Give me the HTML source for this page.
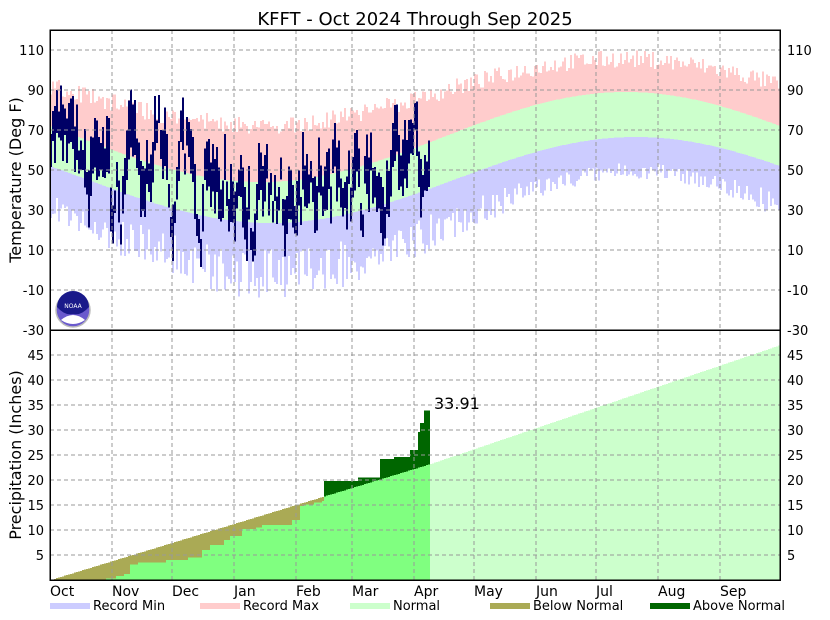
<!DOCTYPE html>
<html><head><meta charset="utf-8"><style>
body{margin:0;background:#fff;width:830px;height:620px;overflow:hidden}
svg{display:block;font-family:"DejaVu Sans","Liberation Sans",sans-serif}
</style></head><body>
<svg id="s" width="830" height="620" xmlns="http://www.w3.org/2000/svg" shape-rendering="crispEdges">
<defs>
<clipPath id="ct"><rect x="50" y="30" width="730" height="300"/></clipPath>
<clipPath id="cb"><rect x="50" y="330" width="730" height="250"/></clipPath>
</defs>
<g id="gtop" clip-path="url(#ct)"></g>
<g id="gbot" clip-path="url(#cb)"></g>
<g id="grid" stroke="#999" stroke-dasharray="4,3" stroke-width="1" fill="none"></g>
<rect x="50" y="30" width="730" height="550" fill="none" stroke="#000" stroke-width="1.5"/>
<line x1="50" y1="330" x2="780" y2="330" stroke="#000" stroke-width="1.5"/>
<text x="415" y="25" font-size="18" text-anchor="middle">KFFT - Oct 2024 Through Sep 2025</text>
<text transform="translate(21,180) rotate(-90)" font-size="16" text-anchor="middle">Temperature (Deg F)</text>
<text transform="translate(21,455) rotate(-90)" font-size="16" text-anchor="middle">Precipitation (Inches)</text>
<text x="434" y="409" font-size="16">33.91</text>
<g id="lbl" font-size="13"></g>
<g transform="translate(73,310)" shape-rendering="auto">
<circle r="17" fill="#6a5acd" stroke="#bbb" stroke-width="1.5"/>
<path d="M-16,-3 A16,16 0 0 1 16,-3 Q8,6 0,4 Q-8,6 -16,-3Z" fill="#1a1a8a"/>
<path d="M-12,10 Q0,0 12,10 Q0,18 -12,10Z" fill="#fff"/>
<text x="0" y="-2" font-size="6" fill="#fff" text-anchor="middle">NOAA</text>
</g>
<g font-size="13">
<rect x="50" y="603" width="40" height="6" fill="#ccccff"/><text x="93" y="610">Record Min</text>
<rect x="200" y="603" width="40" height="6" fill="#ffcccc"/><text x="243" y="610">Record Max</text>
<rect x="350" y="603" width="40" height="6" fill="#ccffcc"/><text x="393" y="610">Normal</text>
<rect x="490" y="603" width="40" height="6" fill="#aaaa55"/><text x="533" y="610">Below Normal</text>
<rect x="650" y="603" width="40" height="6" fill="#006600"/><text x="693" y="610">Above Normal</text>
</g>
</svg>
<script>
(function(){
var NS="http://www.w3.org/2000/svg";
function el(p,t,a){var e=document.createElementNS(NS,t);for(var k in a)e.setAttribute(k,a[k]);if(p)p.appendChild(e);return e;}
var seed=7;function rnd(){seed=(seed*16807)%2147483647;return (seed-1)/2147483646;}
function gauss(){return (rnd()+rnd()+rnd()+rnd()-2)*1.7;}
var gt=document.getElementById('gtop'),gb=document.getElementById('gbot'),grid=document.getElementById('grid'),lbl=document.getElementById('lbl');
function ty(T){return 50+(110-T)*2;}
function py(P){return 580-P*5;}
var W=2*Math.PI/365;
var a=0;
for(var d=0;d<365;d++){
 var x=50+2*d;
 var NH=66.5-22.5*Math.cos(W*(d-105));
 var NL=45-21.5*Math.cos(W*(d-110));
 var wf=(1+Math.cos(W*(d-110)))/2;
 var RM=NH+12+12*wf+rnd()*9;
 var Rm=NL-(13+rnd()*(8+17*wf));
 el(gt,'rect',{x:x,y:ty(RM),width:2,height:ty(NH)-ty(RM),fill:'#ffcccc'});
 el(gt,'rect',{x:x,y:ty(NH),width:2,height:ty(NL)-ty(NH),fill:'#ccffcc'});
 el(gt,'rect',{x:x,y:ty(NL),width:2,height:ty(Rm)-ty(NL),fill:'#ccccff'});
 if(d<190){
  a=a*0.75+gauss()*10;
  var m=(NH+NL)/2+a+2,r=10+rnd()*20;
  var hi=m+r/2,lo=m-r/2;
  el(gt,'rect',{x:x,y:ty(hi),width:2,height:ty(lo)-ty(hi),fill:'#000066'});
 }
}
function normP(d){return d<=190?23.2*d/190:23.2+(d-190)*0.136;}
var steps=[[0,0],[28,0.3],[33,0.8],[37,1.2],[40,3.1],[44,3.5],[58,4],[69,4.5],[76,6],[80,7],[87,8],[90,8.8],[96,10.2],[103,10.5],[106,11],[121,12],[125,14.8],[127,15.1],[132,15.5],[136,15.8],[137,19.8],[154,20.5],[165,24.2],[172,24.6],[180,26],[184,29.6],[185,31.4],[187,33.91]];
function obsP(d){var v=0;for(var i=0;i<steps.length;i++)if(d>=steps[i][0])v=steps[i][1];return v;}
for(var d=0;d<365;d++){
 var x=50+2*d,n=normP(d);
 if(d<190){
  var o=obsP(d);
  var lo=Math.min(o,n);
  el(gb,'rect',{x:x,y:py(lo),width:2,height:580-py(lo),fill:'#80ff80'});
  if(o<n)el(gb,'rect',{x:x,y:py(n),width:2,height:py(o)-py(n),fill:'#aaaa55'});
  else if(o>n)el(gb,'rect',{x:x,y:py(o),width:2,height:py(n)-py(o),fill:'#006600'});
 }else{
  el(gb,'rect',{x:x,y:py(n),width:2,height:580-py(n),fill:'#ccffcc'});
 }
}
var months=['Oct','Nov','Dec','Jan','Feb','Mar','Apr','May','Jun','Jul','Aug','Sep'];
var md=[0,31,61,92,123,151,182,212,243,273,304,335];
for(var i=0;i<12;i++){
 var x=50+2*md[i];
 if(i>0)el(grid,'line',{x1:x,y1:30,x2:x,y2:580});
 var t=el(lbl,'text',{x:x,y:596,'font-size':14});t.textContent=months[i];
}
for(var T=110;T>=-30;T-=20){
 var y=ty(T);
 if(T>-30)el(grid,'line',{x1:50,y1:y,x2:780,y2:y});
 var t=el(lbl,'text',{x:44,y:y+5,'text-anchor':'end'});t.textContent=T;
 t=el(lbl,'text',{x:787,y:y+5});t.textContent=T;
}
for(var P=5;P<=45;P+=5){
 var y=py(P);
 el(grid,'line',{x1:50,y1:y,x2:780,y2:y});
 var t=el(lbl,'text',{x:44,y:y+5,'text-anchor':'end'});t.textContent=P;
 t=el(lbl,'text',{x:787,y:y+5});t.textContent=P;
}
})();
</script>
</body></html>
